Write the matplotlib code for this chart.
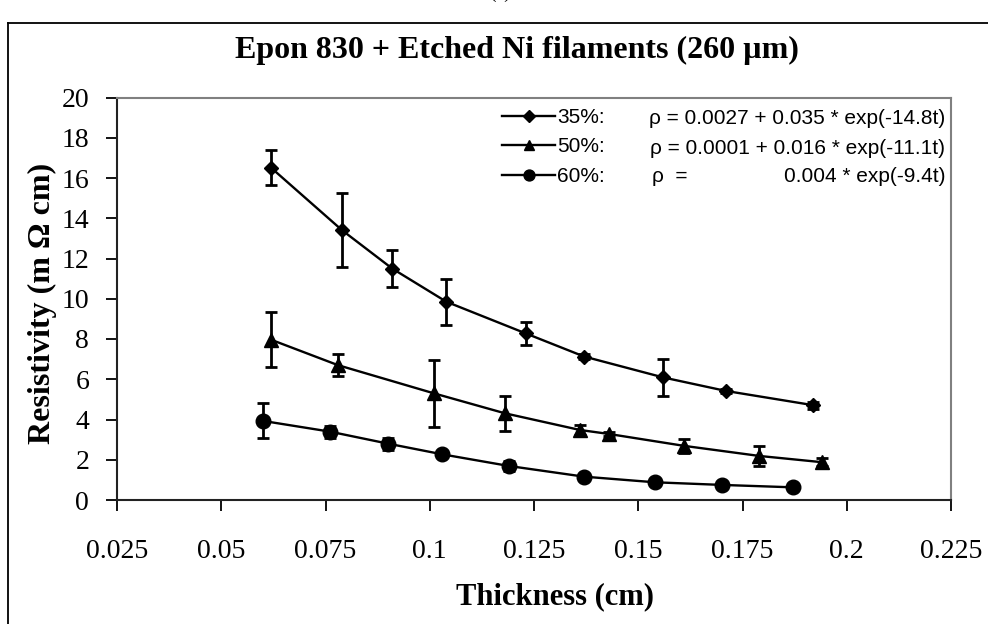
import matplotlib
matplotlib.use('Agg')
import matplotlib.pyplot as plt
from matplotlib.lines import Line2D

# Data (resistivity in m Ohm cm)
t35 = [0.062, 0.079, 0.091, 0.104, 0.123, 0.137, 0.156, 0.171, 0.192]
r35 = [16.5, 13.4, 11.5, 9.85, 8.28, 7.13, 6.09, 5.42, 4.71]
e35 = [0.87, 1.83, 0.9, 1.15, 0.58, 0.1, 0.9, 0.1, 0.18]

t50 = [0.062, 0.078, 0.101, 0.118, 0.136, 0.143, 0.161, 0.179, 0.194]
r50 = [7.96, 6.7, 5.3, 4.31, 3.48, 3.28, 2.69, 2.19, 1.88]
e50 = [1.36, 0.55, 1.66, 0.87, 0.25, 0.1, 0.33, 0.48, 0.2]

t60 = [0.060, 0.076, 0.090, 0.103, 0.119, 0.137, 0.154, 0.170, 0.187]
r60 = [3.93, 3.40, 2.80, 2.27, 1.69, 1.16, 0.88, 0.75, 0.63]
e60 = [0.87, 0.3, 0.3, 0.1, 0.25, 0.1, 0.1, 0.1, 0.1]

labels = ['35%:', '50%:', '60%:']
fits = ['\u03c1 = 0.0027 + 0.035 * exp(-14.8t)',
        '\u03c1 = 0.0001 + 0.016 * exp(-11.1t)',
        '0.004 * exp(-9.4t)']

W, H = 988, 624
fig = plt.figure(figsize=(W / 100, H / 100), dpi=100)
serif = 'Liberation Serif'
sans = 'Liberation Sans'


def px(x, y):
    return x / W, 1 - y / H


# outer frame of the chart
fig.add_artist(Line2D([7.5 / W, 7.5 / W], [0, 1 - 23 / H], color='black', lw=1.3))
fig.add_artist(Line2D([7.5 / W, 1], [1 - 23 / H, 1 - 23 / H], color='black', lw=1.3))
# panel label, mostly cut off at the top edge as in the original
fig.text(*px(500, 2), '(a)', ha='center', va='bottom', fontsize=14, family=serif)

ax = fig.add_axes([117 / W, 1 - 500 / H, (951 - 117) / W, (500 - 97.5) / H])

series = [(t35, r35, e35, 'D', 7.5), (t50, r50, e50, '^', 10), (t60, r60, e60, 'o', 10.5)]
handles = []
for (t, r, e, m, ms), lab in zip(series, labels):
    ax.errorbar(t, r, yerr=e, color='black', lw=1.7, marker=m, ms=ms,
                capsize=4, capthick=2, elinewidth=2)
    handles.append(Line2D([], [], color='black', lw=1.7, marker=m, ms=ms * 0.75, label=lab))

ax.set_xlim(0.025, 0.225)
ax.set_ylim(0, 20)
ax.set_xticks([0.025, 0.05, 0.075, 0.1, 0.125, 0.15, 0.175, 0.2, 0.225])
ax.set_xticklabels(['0.025', '0.05', '0.075', '0.1', '0.125', '0.15', '0.175', '0.2', '0.225'])
ax.set_yticks(range(0, 21, 2))
ax.tick_params(axis='both', direction='out', length=8, width=1.3, labelsize=20)
ax.tick_params(axis='x', pad=20)
ax.tick_params(axis='y', pad=12)
for lab in ax.get_xticklabels() + ax.get_yticklabels():
    lab.set_family(serif)
for s in ['top', 'right']:
    ax.spines[s].set_color('#808080')
    ax.spines[s].set_linewidth(1.5)
for s in ['left', 'bottom']:
    ax.spines[s].set_color('#222222')
    ax.spines[s].set_linewidth(1.5)

leg = ax.legend(handles=handles, loc='upper left', bbox_to_anchor=px(502, 108), bbox_transform=fig.transFigure,
                frameon=False, prop={'family': sans, 'size': 15}, handlelength=2.55,
                handletextpad=0.1, labelspacing=0.5, borderpad=0, borderaxespad=0)

fs_eq = 15
fig.text(*px(945, 119), fits[0], ha='right', va='center', fontsize=fs_eq, family=sans)
fig.text(*px(945, 148), fits[1], ha='right', va='center', fontsize=fs_eq, family=sans)
fig.text(*px(652, 177), '\u03c1  =', ha='left', va='center', fontsize=fs_eq, family=sans)
fig.text(*px(945, 177), fits[2], ha='right', va='center', fontsize=fs_eq, family=sans)

fig.text(*px(517, 50), 'Epon 830 + Etched Ni filaments (260 \u00b5m)', ha='center', va='center',
         fontsize=23, fontweight='bold', family=serif)
fig.text(*px(555, 597), 'Thickness (cm)', ha='center', va='center',
         fontsize=22, fontweight='bold', family=serif)
fig.text(*px(42, 303), 'Resistivity (m \u03a9 cm)', ha='center', va='center', rotation=90,
         fontsize=23, fontweight='bold', family=serif)

fig.savefig('out.png', dpi=100)
